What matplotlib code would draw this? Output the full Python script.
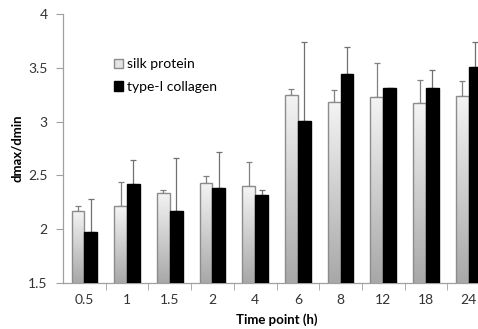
import numpy as np
import matplotlib.pyplot as plt
from matplotlib.patches import Patch
from matplotlib.colors import LinearSegmentedColormap

# data
time_labels = ["0.5", "1", "1.5", "2", "4", "6", "8", "12", "18", "24"]
silk = [2.17, 2.215, 2.34, 2.43, 2.40, 3.25, 3.185, 3.23, 3.17, 3.24]
silk_err = [0.05, 0.225, 0.02, 0.06, 0.22, 0.05, 0.105, 0.31, 0.22, 0.14]
collagen = [1.97, 2.42, 2.17, 2.38, 2.32, 3.01, 3.44, 3.31, 3.31, 3.51]
collagen_err = [0.31, 0.22, 0.49, 0.34, 0.04, 0.73, 0.25, 0.0, 0.17, 0.23]

plt.rcParams['font.family'] = ['Lato', 'DejaVu Sans']

fig = plt.figure(figsize=(4.78, 3.29), dpi=100)
ax = fig.add_axes([63 / 478, 1 - 283 / 329, 427 / 478, 269 / 329])

x = np.arange(len(time_labels))
w = 0.3

# light bars with a vertical gradient (grey at the bottom, near white on top)
fade = LinearSegmentedColormap.from_list('fade', ['#a8a8a8', '#f4f4f4'])
grad = np.linspace(0, 1, 100).reshape(-1, 1)
light_bars = ax.bar(x - w / 2, silk, w, color='none', edgecolor='#8c8c8c',
                    linewidth=1.0, zorder=3)
for b in light_bars:
    x0, y0 = b.get_x(), b.get_y()
    im = ax.imshow(grad, cmap=fade, aspect='auto',
                   extent=[x0, x0 + b.get_width(), 1.5, y0 + b.get_height()],
                   origin='lower', zorder=2)
    im.set_clip_path(b)
ax.bar(x + w / 2, collagen, w, color='black', edgecolor='black', zorder=3)

ax.errorbar(x - w / 2, silk, yerr=[np.zeros(len(silk)), silk_err], fmt='none',
            ecolor='#808080', elinewidth=0.9, capsize=2, capthick=0.9, zorder=1)
ax.errorbar(x + w / 2, collagen, yerr=[np.zeros(len(collagen)), collagen_err],
            fmt='none', ecolor='#707070', elinewidth=0.9, capsize=2,
            capthick=0.9, zorder=1)

ax.set_xlim(-0.5, len(time_labels) - 0.5)
ax.set_ylim(1.5, 4)
ax.set_yticks([1.5, 2, 2.5, 3, 3.5, 4])
ax.set_yticklabels(["1.5", "2", "2.5", "3", "3.5", "4"])
ax.set_xticks(x)
ax.set_xticklabels(time_labels)
ax.set_xticks(np.arange(0.5, len(time_labels) - 0.5, 1), minor=True)
ax.tick_params(axis='x', which='major', length=0, pad=8, labelsize=10,
               colors='#333333')
ax.tick_params(axis='x', which='minor', length=5, color='#a0a0a0')
ax.tick_params(axis='y', length=5, color='#a0a0a0', labelsize=10,
               colors='#333333', pad=6)
for s in ['top', 'right']:
    ax.spines[s].set_visible(False)
for s in ['left', 'bottom']:
    ax.spines[s].set_color('#a0a0a0')
    ax.spines[s].set_linewidth(0.9)

ax.set_xlabel("Time point (h)", fontweight='bold', fontsize=9.5, labelpad=5)
ax.set_ylabel("dmax/dmin", fontweight='bold', fontsize=9.5, labelpad=4)

handles = [Patch(facecolor='#e4e4e4', edgecolor='#8c8c8c', label='silk protein'),
           Patch(facecolor='black', edgecolor='black', label='type-I collagen')]
fig.legend(handles=handles, loc='upper left', bbox_to_anchor=(101 / 478, 1 - 46 / 329),
           frameon=False, handlelength=0.65, handleheight=0.65, handletextpad=0.3,
           labelspacing=0.75, fontsize=10)

fig.savefig("out.png", dpi=100)
